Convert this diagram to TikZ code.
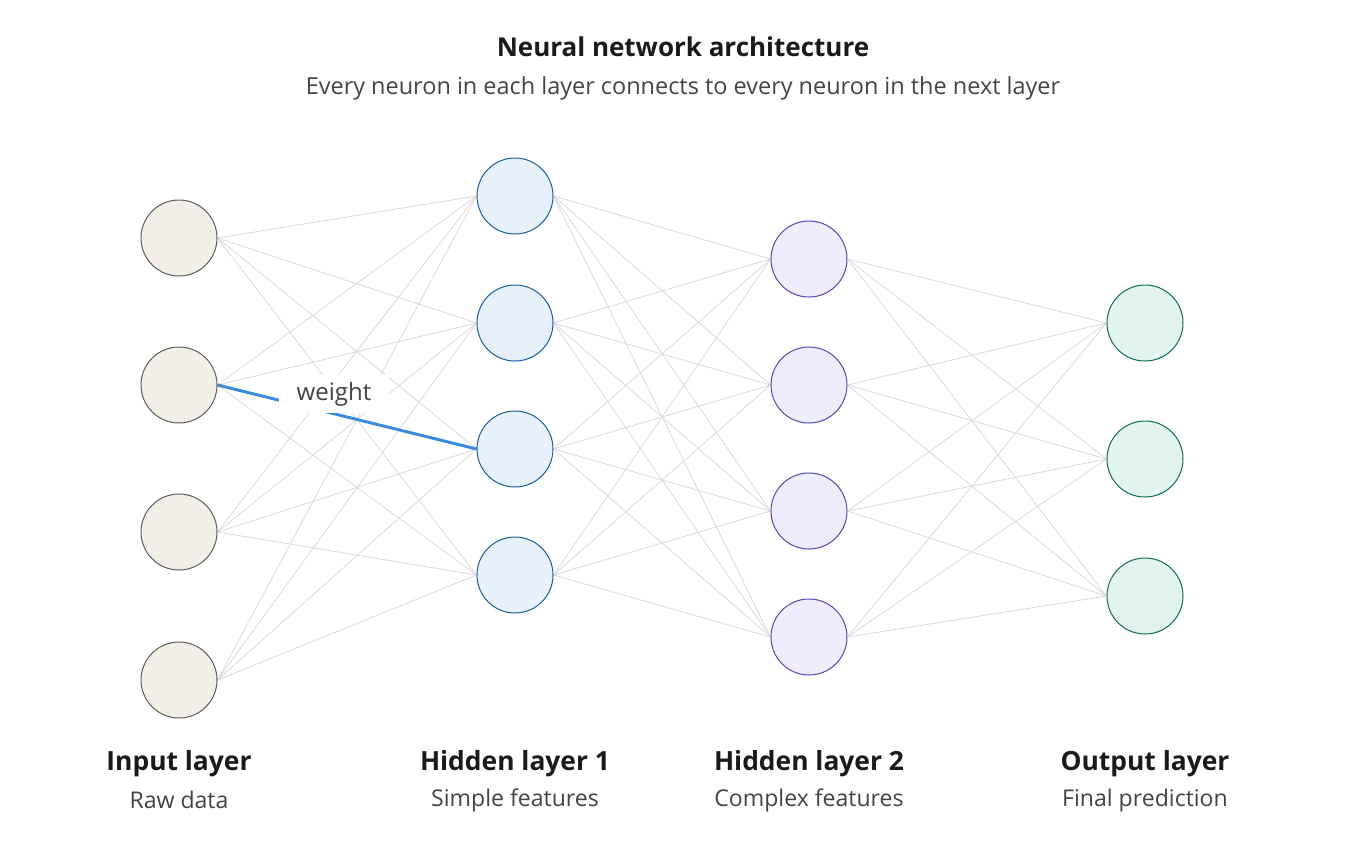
\documentclass[tikz,border=0pt]{standalone}
\usepackage{fontspec}
\setmainfont{Open Sans}
\usetikzlibrary{backgrounds}
\definecolor{inF}{HTML}{F1EFE8}\definecolor{inD}{HTML}{5F5E5A}
\definecolor{haF}{HTML}{E6F1FB}\definecolor{haD}{HTML}{185FA5}
\definecolor{hbF}{HTML}{EEEDFE}\definecolor{hbD}{HTML}{534AB7}
\definecolor{ouF}{HTML}{E1F5EE}\definecolor{ouD}{HTML}{0F6E56}
\definecolor{edge}{HTML}{D9D9D9}\definecolor{wblue}{HTML}{378ADD}
\definecolor{ttl}{HTML}{1A1A1A}\definecolor{sub}{HTML}{444441}
\begin{document}
\begin{tikzpicture}[x=0.75pt,y=-0.75pt,
  neuron/.style={circle,minimum size=57pt,inner sep=0pt,line width=0.75pt},
  inN/.style={neuron,fill=inF,draw=inD},
  haN/.style={neuron,fill=haF,draw=haD},
  hbN/.style={neuron,fill=hbF,draw=hbD},
  ouN/.style={neuron,fill=ouF,draw=ouD},
  conn/.style={draw=edge,line width=0.6pt},
  title/.style={font=\bfseries\fontsize{19.5}{22}\selectfont,text=ttl},
  subtitle/.style={font=\fontsize{17.6}{20}\selectfont,text=sub},
  lname/.style={font=\bfseries\fontsize{19.8}{22}\selectfont,text=ttl},
  ldesc/.style={font=\fontsize{17.3}{20}\selectfont,text=sub}]
\useasboundingbox (0,0) rectangle (1357,853);
\node[title] (t) at (683,47) {Neural network architecture};
\node[subtitle] (st) at (683,88) {Every neuron in each layer connects to every neuron in the next layer};
% nodes
\foreach \y [count=\i] in {238,385,532,680} \node[inN] (i\i) at (179,\y) {};
\foreach \y [count=\i] in {196,323,449,575} \node[haN] (a\i) at (515,\y) {};
\foreach \y [count=\i] in {259,385,511,637} \node[hbN] (b\i) at (809,\y) {};
\foreach \y [count=\i] in {323,459,596} \node[ouN] (o\i) at (1145,\y) {};
% connections
\begin{pgfonlayer}{background}
\foreach \s in {1,...,4}{\foreach \t in {1,...,4}{\draw[conn] (i\s.east) -- (a\t.west);}}
\foreach \s in {1,...,4}{\foreach \t in {1,...,4}{\draw[conn] (a\s.east) -- (b\t.west);}}
\foreach \s in {1,...,4}{\foreach \t in {1,...,3}{\draw[conn] (b\s.east) -- (o\t.west);}}
\draw[wblue,line width=2.2pt] (i2.east) -- (a3.west);
\end{pgfonlayer}
\node[fill=white,minimum width=82pt,minimum height=28pt,inner sep=0pt,font=\fontsize{18}{20}\selectfont,text=sub] (w) at (334,394) {weight};
% labels
\node[lname] (l1) at (179,764) {Input layer};
\node[ldesc] (d1) at (179,800) {Raw data};
\node[lname] (l2) at (515,764) {Hidden layer 1};
\node[ldesc] (d2) at (515,800) {Simple features};
\node[lname] (l3) at (809,764) {Hidden layer 2};
\node[ldesc] (d3) at (809,800) {Complex features};
\node[lname] (l4) at (1145,764) {Output layer};
\node[ldesc] (d4) at (1145,800) {Final prediction};
\end{tikzpicture}
\end{document}
